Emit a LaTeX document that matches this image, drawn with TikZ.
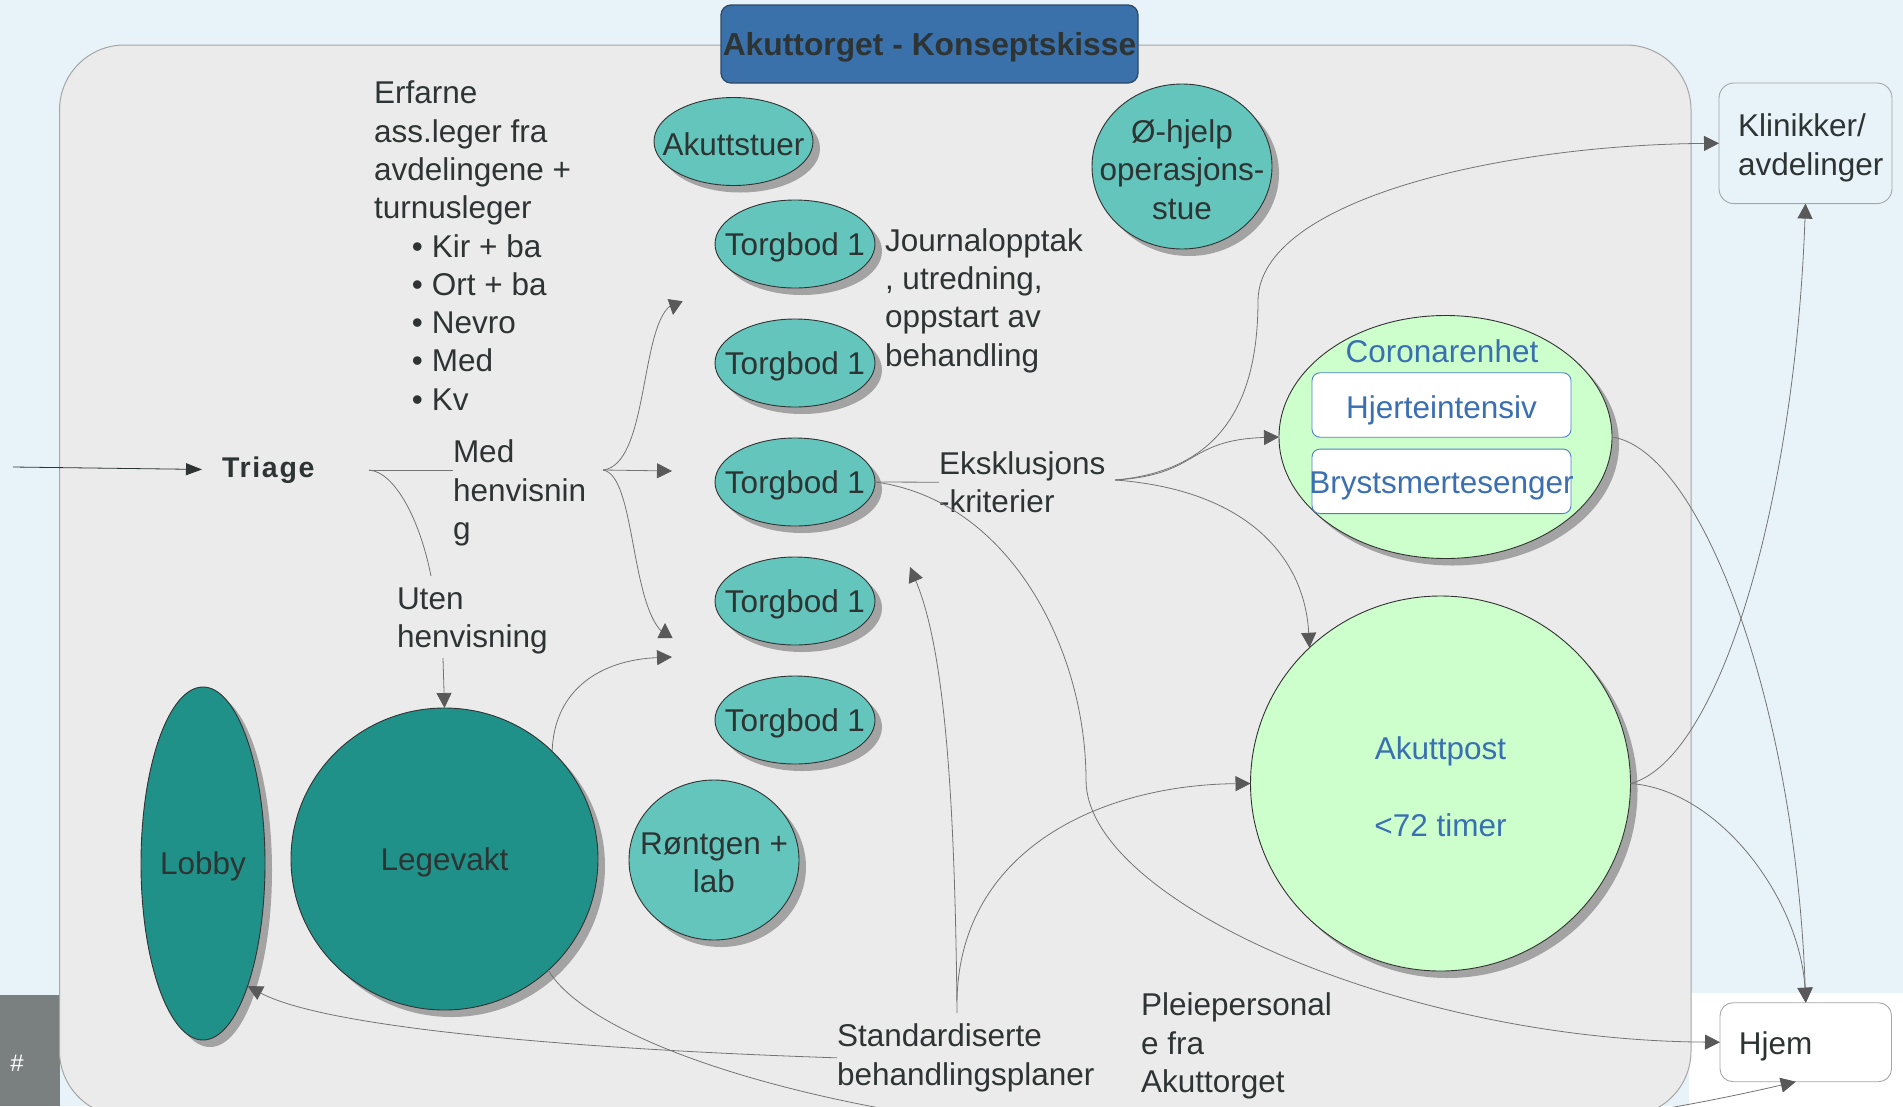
\documentclass[tikz,border=0pt]{standalone}
\usepackage{fontspec}
\setmainfont{Liberation Sans}
\usetikzlibrary{shapes.geometric,shadows,arrows.meta}

\definecolor{bgblue}{HTML}{E8F3F9}
\definecolor{panel}{HTML}{EBEBEB}
\definecolor{panelline}{HTML}{A6A6A6}
\definecolor{titleblue}{HTML}{3A71AB}
\definecolor{titleline}{HTML}{2F4A66}
\definecolor{txt}{HTML}{2E3434}
\definecolor{tealL}{HTML}{63C5BB}
\definecolor{tealD}{HTML}{1F9188}
\definecolor{mint}{HTML}{CCFFCC}
\definecolor{blueTxt}{HTML}{3A6FB2}
\definecolor{boxline}{HTML}{4A80C4}
\definecolor{connc}{HTML}{747474}
\definecolor{headc}{HTML}{595959}
\definecolor{shadowc}{HTML}{A3A3A3}
\definecolor{cornergray}{HTML}{7A8080}

\newcommand\mybul{\makebox[58pt][r]{\textbullet\hspace{9pt}}}

\begin{document}
\begin{tikzpicture}[x=1pt,y=-1pt,
  every node/.style={font=\fontsize{31.5}{38.3}\selectfont, text=txt, inner sep=0pt, outer sep=0pt},
  every label/.style={yshift=-3pt},
  shad/.style={drop shadow={shadow xshift=7pt, shadow yshift=-7pt, fill=shadowc, opacity=1}},
  blob/.style={ellipse, draw=black!80, line width=0.9pt, shad},
  lt/.style={blob, fill=tealL},
  dk/.style={blob, fill=tealD},
  gr/.style={blob, fill=mint},
  conn/.style={draw=connc, line width=0.8pt},
  arr/.style={conn, -{Triangle[length=15pt, width=15pt, color=headc]}},
  txtblock/.style={anchor=north west, align=left},
  whitebox/.style={draw=boxline, fill=white, rounded corners=8pt, line width=0.9pt, minimum width=259pt, minimum height=64.5pt}
]
\useasboundingbox (0,0) rectangle (1903,1106);
\clip (0,0) rectangle (1903,1106);

% background
\fill[bgblue] (0,0) rectangle (1903,1106);
\fill[cornergray] (0,995) rectangle (60,1106);
\fill[white] (1689,993) rectangle (1903,1106);
\node[text=white, font=\fontsize{24}{28}\selectfont] (hash) at (17,1063) {\#};

% main panel
\draw[fill=panel, draw=panelline, line width=1pt, rounded corners=65pt] (59.5,45) rectangle (1691,1116);

% title
\node[draw=titleline, fill=titleblue, line width=1.3pt, rounded corners=10pt,
      minimum width=417pt, minimum height=78pt, text height=23pt, text depth=0pt,
      font=\bfseries\fontsize{31.8}{38}\selectfont] (title) at (929.5,44) {Akuttorget - Konseptskisse};

% ellipses
\node[lt, minimum width=159pt, minimum height=88pt, label=center:Akuttstuer] (akst) at (733.5,141.5) {};
\node[lt, minimum width=160pt, minimum height=88pt, label=center:{Torgbod 1}] (t1) at (795,244) {};
\node[lt, minimum width=160pt, minimum height=88pt, label=center:{Torgbod 1}] (t2) at (795,363) {};
\node[lt, minimum width=160pt, minimum height=88pt, label=center:{Torgbod 1}] (t3) at (795,482) {};
\node[lt, minimum width=160pt, minimum height=88pt, label=center:{Torgbod 1}] (t4) at (795,601) {};
\node[lt, minimum width=160pt, minimum height=88pt, label=center:{Torgbod 1}] (t5) at (795,720) {};
\node[lt, minimum width=180pt, minimum height=165pt, label={[align=center]center:{Ø-hjelp\\operasjons-\\stue}}] (ohj) at (1182,166.5) {};
\node[lt, minimum width=170pt, minimum height=160pt, label={[align=center]center:{Røntgen +\\lab}}] (ront) at (714,860) {};
\node[dk, minimum width=124pt, minimum height=353pt, label=center:Lobby] (lobby) at (203,863.5) {};
\node[dk, minimum width=307pt, minimum height=302pt, label=center:Legevakt] (lege) at (444.5,859) {};
\node[gr, minimum width=333pt, minimum height=243pt] (cor) at (1445.5,437) {};
\node[gr, minimum width=380pt, minimum height=375pt,
      label={[align=center, text=blueTxt]center:{Akuttpost\\[38.3pt]<72 timer}}] (akp) at (1440.5,783.5) {};

% coronarenhet contents
\node[text=blueTxt, anchor=base] (cortxt) at (1442,362.5) {Coronarenhet};
\node[whitebox, label={[text=blueTxt, yshift=-2pt]center:Hjerteintensiv}] (hi) at (1441.5,405) {};
\node[whitebox, label={[text=blueTxt, yshift=-2pt]center:Brystsmertesenger}] (bs) at (1441.5,481.3) {};

% right boxes
\node[draw=panelline, fill=bgblue, rounded corners=15pt, line width=0.9pt,
      minimum width=173pt, minimum height=120.6pt,
      label={[text width=135pt, align=left, yshift=-1.5pt]center:{Klinikker/\\avdelinger}}] (kl) at (1805.5,143.3) {};
\node[draw=panelline, fill=white, rounded corners=13pt, line width=0.9pt,
      minimum width=171.5pt, minimum height=79pt,
      label={[text width=134pt, align=left, yshift=-1.5pt]center:Hjem}] (hjem) at (1805.75,1042.2) {};

% text blocks
\node[txtblock] (erf) at (374,81) {Erfarne\\ass.leger fra\\avdelingene +\\turnusleger\\\mybul Kir + ba\\\mybul Ort + ba\\\mybul Nevro\\\mybul Med\\\mybul Kv};
\node[anchor=base west, font=\bfseries\fontsize{28.5}{32}\selectfont\addfontfeatures{LetterSpace=6}] (tri) at (222,477) {Triage};
\node[txtblock] (mh) at (453,440) {Med\\henvisnin\\g};
\node[txtblock] (uh) at (397,587.5) {Uten\\henvisning};
\node[txtblock] (jour) at (885,228.5) {Journalopptak\\, utredning,\\oppstart av\\behandling};
\node[txtblock] (eks) at (939,451.5) {Eksklusjons\\-kriterier};
\node[txtblock] (std) at (837,1024) {Standardiserte\\behandlingsplaner};
\node[txtblock] (pleie) at (1141,993) {Pleiepersonal\\e fra\\Akuttorget};

% coordinates
\coordinate (entry) at (13,467);
\coordinate (trfork) at (369,470);
\coordinate (mhin) at (453,470);
\coordinate (uhtop) at (431,576);
\coordinate (uhbot) at (443,658);
\coordinate (mhfork) at (603,470);
\coordinate (upend) at (670,306);
\coordinate (upA) at (675,301);
\coordinate (upB) at (673,315);
\coordinate (midtip) at (672,471);
\coordinate (dnend) at (662,632);
\coordinate (dnA) at (665,637);
\coordinate (dnB) at (665,623);
\coordinate (legtip) at (672,657);
\coordinate (ekfork) at (1115,480);
\coordinate (stdtop) at (957,1013);
\coordinate (stdtop2) at (957,1000);
\coordinate (ptip) at (910,567);

% connectors
\draw[draw=txt, line width=0.8pt, -{Triangle[length=16pt, width=12pt, color=txt]}, shorten >=20pt] (entry) -- (tri.west);
\draw[conn] (trfork) -- (mhin);
\draw[conn] (trfork) .. controls (395,472) and (420,520) .. (uhtop);
\draw[arr] (uhbot) -- (lege.north);
\draw[conn] (mhfork) .. controls (648,465) and (640,330) .. (upend);
\draw[arr] (upA) -- (upB);
\draw[arr] (mhfork) -- (midtip);
\draw[conn] (mhfork) .. controls (635,475) and (630,600) .. (dnend);
\draw[arr] (dnA) -- (dnB);
\draw[arr] (lege.45) .. controls (554,690) and (600,660) .. (legtip);

\draw[conn] (t3.east) -- (eks.west);
\draw[arr] (t3.east) .. controls (1010,500) and (1086,650) .. (1086,780) .. controls (1086,900) and (1400,1040) .. (hjem.west);

\draw[arr] (ekfork) .. controls (1230,470) and (1258,390) .. (1258,300) .. controls (1260,200) and (1500,145) .. (kl.west);
\draw[arr] (ekfork) .. controls (1200,475) and (1185,440) .. (cor.west);
\draw[arr] (ekfork) .. controls (1250,490) and (1305,560) .. (akp.134);

\draw[arr] (cor.east) .. controls (1700,450) and (1795,700) .. (hjem.north);
\draw[arr] (akp.east) .. controls (1720,760) and (1795,500) .. (kl.south);
\draw[arr] (akp.east) .. controls (1720,790) and (1800,900) .. (hjem.north);

\draw[arr] (std.west) .. controls (600,1050) and (330,1030) .. (lobby.-70);
\draw[arr] (stdtop) .. controls (955,800) and (945,650) .. (ptip);
\draw[arr] (stdtop2) .. controls (960,850) and (1100,785) .. (akp.west);
\draw[arr] (lege.-47) .. controls (620,1090) and (1200,1220) .. ([xshift=-10pt]hjem.south);
\end{tikzpicture}
\end{document}
